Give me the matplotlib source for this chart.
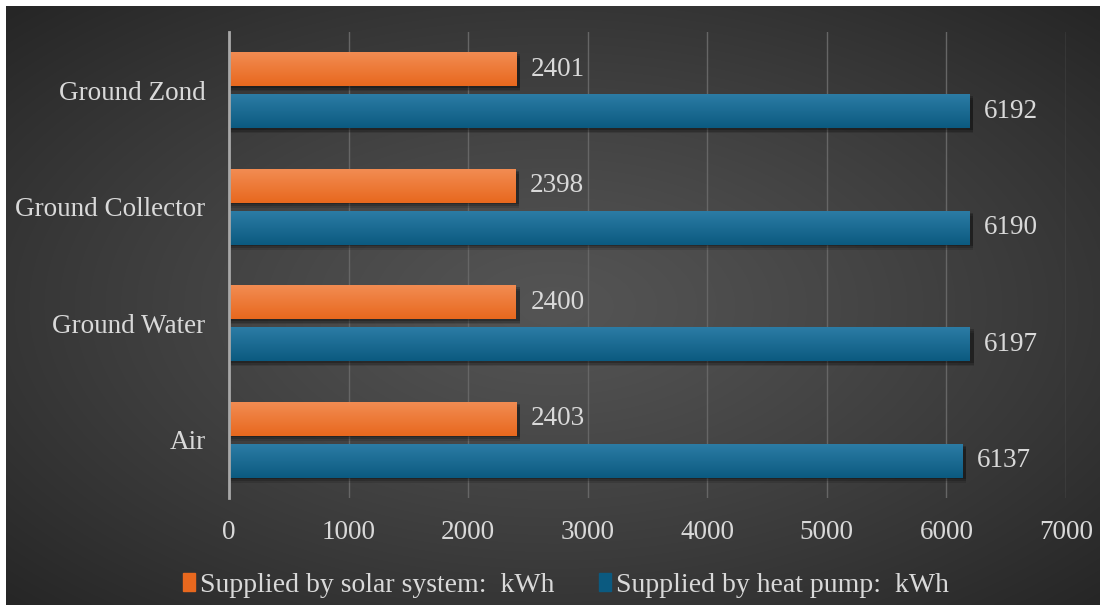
import numpy as np
import matplotlib
matplotlib.use("Agg")
import matplotlib.pyplot as plt
from matplotlib.patches import Patch

plt.rcParams["font.family"] = ["Liberation Serif", "DejaVu Serif"]

# 데이터 (아래에서 위 순서)
categories = ["Air", "Ground Water", "Ground Collector", "Ground Zond"]
solar_kwh = [2403, 2400, 2398, 2401]
heat_pump_kwh = [6137, 6197, 6190, 6192]
series_names = ["Supplied by solar system:  kWh", "Supplied by heat pump:  kWh"]
x_ticks = [0, 1000, 2000, 3000, 4000, 5000, 6000, 7000]

TXT = "#d9d9d9"
FS = 19.5
ORANGE = ("#f28c52", "#e8681e")
BLUE = ("#2c7ca5", "#0b5a80")

W, H = 1100, 605
fig = plt.figure(figsize=(W / 100, H / 100), dpi=100, facecolor="white")

# 배경: 어두운 방사형 그라데이션
bg = fig.add_axes([6 / W, 0, 1 - 6 / W, 1 - 6 / H])
bg.set_axis_off()
gy, gx = np.mgrid[0:300, 0:550]
r = np.hypot((gx - 275) / 275, (gy - 150) / 150)
shade = 0.33 - 0.18 * np.clip(r / 1.4, 0, 1) ** 1.2
bg.imshow(np.dstack([shade] * 3), aspect="auto", interpolation="bilinear",
          extent=[0, 1, 0, 1])
bg.set_xlim(0, 1); bg.set_ylim(0, 1)

ax = fig.add_axes([229 / W, 1 - 498 / H, (1066 - 229) / W, (498 - 32) / H])
ax.patch.set_alpha(0)

y = np.arange(len(categories))
h = 0.29
off = 0.18


def grad_bars(ys, vals, cols):
    cmap = matplotlib.colors.LinearSegmentedColormap.from_list("g", [cols[0], cols[1]])
    g = np.linspace(0, 1, 64).reshape(-1, 1)
    for yy, v in zip(ys, vals):
        # 부드러운 그림자
        for k, a in [(0.045, 0.12), (0.03, 0.18), (0.015, 0.22)]:
            ax.barh(yy - k, v + 30, height=h, left=0, color="black", alpha=a,
                    zorder=2, linewidth=0)
        bars = ax.barh(yy, v, height=h, color=cols[1], zorder=3, linewidth=0)
        im = ax.imshow(g, cmap=cmap, aspect="auto", zorder=3.5,
                       extent=[0, v, yy - h / 2, yy + h / 2], interpolation="bilinear")
        im.set_clip_path(bars[0])
        ax.text(v + 120, yy, f"{v}", va="center", ha="left", color=TXT,
                fontsize=FS, zorder=5)


grad_bars(y + off, solar_kwh, ORANGE)
grad_bars(y - off, heat_pump_kwh, BLUE)
ax.set_xlim(0, 7000)
ax.set_ylim(-0.5, len(categories) - 0.5)

ax.set_yticks(y)
ax.set_yticklabels(categories)
ax.set_xticks(x_ticks)
ax.tick_params(length=0, labelsize=FS, labelcolor=TXT)
ax.tick_params(axis="x", pad=16)
ax.tick_params(axis="y", pad=17)
ax.grid(axis="x", color="#666666", lw=1.0, zorder=0)
ax.set_axisbelow(True)
for s in ["top", "right", "bottom"]:
    ax.spines[s].set_visible(False)
ax.spines["left"].set_color("#a8a8a8")
ax.spines["left"].set_linewidth(2)
ax.spines["left"].set_zorder(4)

handles = [Patch(color=ORANGE[1]), Patch(color=BLUE[1])]
fig.legend(handles, series_names, loc="center", bbox_to_anchor=(566 / W, 1 - 585 / H),
           ncol=2, frameon=False, fontsize=20, labelcolor=TXT,
           handlelength=0.42, handleheight=0.6, handletextpad=0.2, columnspacing=1.6)

fig.savefig("out.png", dpi=100, facecolor="white")
